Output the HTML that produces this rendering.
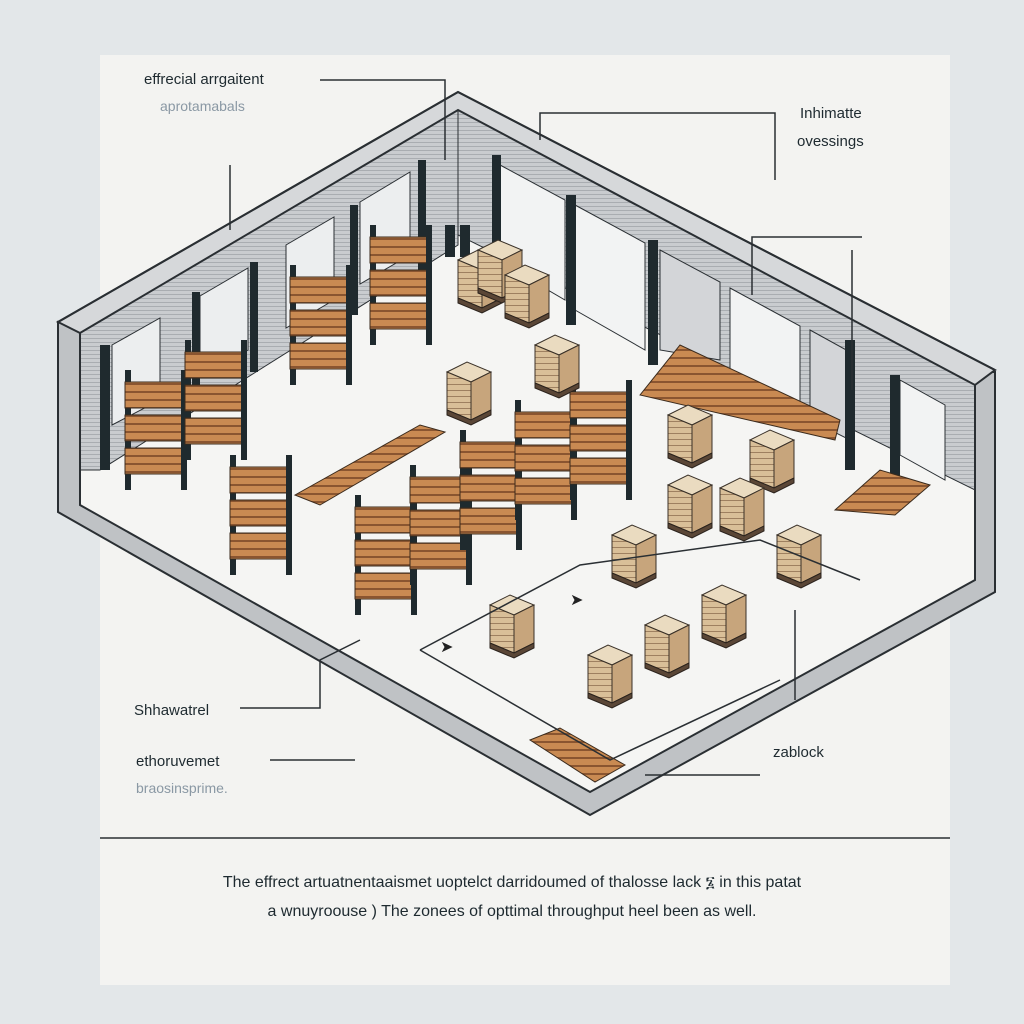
<!DOCTYPE html>
<html><head><meta charset="utf-8"><style>
html,body{margin:0;padding:0;width:1024px;height:1024px;background:#e3e7e9;overflow:hidden}
svg{display:block}
text{font-family:"Liberation Sans",sans-serif}
</style></head><body>
<svg width="1024" height="1024" viewBox="0 0 1024 1024">
<defs>
<pattern id="wood" width="8" height="8" patternUnits="userSpaceOnUse">
<rect width="8" height="8" fill="#c98a52"/><rect y="5" width="8" height="2" fill="#8a5530"/></pattern>
<pattern id="box" width="6" height="6" patternUnits="userSpaceOnUse">
<rect width="6" height="6" fill="#d9bf98"/><rect y="4" width="6" height="1" fill="#9e8060"/></pattern>
<pattern id="hatch" width="4" height="4" patternUnits="userSpaceOnUse">
<rect width="4" height="4" fill="#c9cccf"/><rect y="2" width="4" height="1" fill="#a9adb1"/></pattern>
<g id="pal">
<polygon points="0,10 20,0 44,10 24,20" fill="#eadbc0" stroke="#3a3128"/>
<polygon points="0,10 24,20 24,58 0,48" fill="url(#box)" stroke="#3a3128"/>
<polygon points="24,20 44,10 44,48 24,58" fill="#c7a57c" stroke="#3a3128"/>
<polygon points="0,48 24,58 44,48 44,53 24,63 0,53" fill="#5a4636" stroke="#2a221c"/>
</g>
<g id="rack">
<rect x="0" y="0" width="6" height="120" fill="#1f2a2e"/>
<rect x="0" y="12" width="60" height="26" fill="url(#wood)" stroke="#3a2a1c"/>
<rect x="0" y="45" width="60" height="26" fill="url(#wood)" stroke="#3a2a1c"/>
<rect x="0" y="78" width="60" height="26" fill="url(#wood)" stroke="#3a2a1c"/>
<rect x="56" y="0" width="6" height="120" fill="#1f2a2e"/>
</g>
</defs>
<rect x="100" y="55" width="850" height="930" fill="#f3f3f1"/>
<!-- floor -->
<polygon points="80,335 458,112 975,385 975,580 590,792 80,508" fill="#f5f5f3"/>
<!-- back walls -->
<polygon points="80,332 458,108 458,245 100,470 80,470" fill="url(#hatch)" stroke="#2a2f33"/>
<polygon points="458,108 975,380 975,490 458,235" fill="url(#hatch)" stroke="#2a2f33"/>
<!-- doors left wall -->
<g fill="#eceeef" stroke="#2a2f33">
<polygon points="112,345 160,318 160,400 112,425"/>
<polygon points="200,296 248,268 248,350 200,378"/>
<polygon points="286,245 334,217 334,300 286,328"/>
<polygon points="360,202 410,172 410,255 360,284"/>
</g>
<!-- doors right wall -->
<g fill="#f2f3f3" stroke="#2a2f33">
<polygon points="500,165 565,200 565,300 500,262"/>
<polygon points="575,205 645,243 645,350 575,310"/>
<polygon points="660,250 720,282 720,360 660,350" fill="#d3d5d8"/>
<polygon points="730,288 800,326 800,410 730,380"/>
<polygon points="810,330 850,352 850,440 810,420" fill="#d3d5d8"/>
<polygon points="900,380 945,405 945,480 900,455"/>
</g>
<g fill="#1f2a2e">
<rect x="100" y="345" width="10" height="125"/><rect x="192" y="292" width="8" height="110"/>
<rect x="250" y="262" width="8" height="110"/><rect x="350" y="205" width="8" height="110"/>
<rect x="418" y="160" width="8" height="110"/><rect x="492" y="155" width="9" height="100"/>
<rect x="566" y="195" width="10" height="130"/><rect x="648" y="240" width="10" height="125"/>
<rect x="845" y="340" width="10" height="130"/><rect x="890" y="375" width="10" height="110"/>
<rect x="445" y="225" width="10" height="32"/><rect x="460" y="225" width="10" height="32"/>
</g>
<!-- front wall band -->
<polygon points="58,322 58,512 590,815 995,592 995,372 975,372 975,580 590,792 80,505 80,330" fill="#bfc2c5" stroke="#2a2f33" stroke-width="2"/>
<polygon points="58,322 458,92 995,370 975,385 458,110 80,333" fill="#d6d8da" stroke="#2a2f33" stroke-width="2"/>
<polyline points="58,322 458,92 995,370" fill="none" stroke="#2a2f33" stroke-width="2"/>
<!-- racks -->
<use href="#rack" x="125" y="370"/><use href="#rack" x="185" y="340"/>
<use href="#rack" x="290" y="265"/><use href="#rack" x="370" y="225"/>
<use href="#rack" x="230" y="455"/>
<use href="#rack" x="355" y="495"/><use href="#rack" x="410" y="465"/><use href="#rack" x="460" y="430"/><use href="#rack" x="515" y="400"/><use href="#rack" x="570" y="380"/>
<polygon points="295,495 420,425 445,432 320,505" fill="url(#wood)" stroke="#3a2a1c"/>
<polygon points="640,395 680,345 840,420 835,440" fill="url(#wood)" stroke="#3a2a1c"/>
<polygon points="530,740 560,728 625,765 595,782" fill="url(#wood)" stroke="#3a2a1c"/>
<polygon points="835,510 880,470 930,485 895,515" fill="url(#wood)" stroke="#3a2a1c"/>
<!-- pallets -->
<use href="#pal" x="458" y="250"/><use href="#pal" x="478" y="240"/><use href="#pal" x="505" y="265"/>
<use href="#pal" x="535" y="335"/><use href="#pal" x="447" y="362"/>
<use href="#pal" x="668" y="405"/><use href="#pal" x="750" y="430"/>
<use href="#pal" x="668" y="475"/><use href="#pal" x="720" y="478"/>
<use href="#pal" x="612" y="525"/><use href="#pal" x="777" y="525"/>
<use href="#pal" x="702" y="585"/><use href="#pal" x="645" y="615"/>
<use href="#pal" x="490" y="595"/><use href="#pal" x="588" y="645"/>
<!-- floor markings -->
<polyline points="420,650 580,565 760,540 860,580" fill="none" stroke="#2a2f33" stroke-width="1.5"/>
<polyline points="420,650 610,760 780,680" fill="none" stroke="#2a2f33" stroke-width="1.5"/>
<text x="440" y="652" font-size="16" fill="#222">➤</text>
<text x="570" y="605" font-size="16" fill="#222">➤</text>
<!-- leader lines -->
<g stroke="#2a2f33" stroke-width="1.5" fill="none">
<polyline points="320,80 445,80 445,160"/>
<polyline points="230,165 230,230"/>
<polyline points="540,140 540,113 775,113 775,180"/>
<polyline points="752,295 752,237 862,237"/>
<polyline points="852,250 852,390"/>
<polyline points="240,708 320,708 320,660 360,640"/>
<polyline points="270,760 355,760"/>
<polyline points="795,700 795,610"/>
<polyline points="645,775 760,775"/>
<line x1="100" y1="838" x2="950" y2="838"/>
</g>
<text x="144" y="84" font-size="15" fill="#1e2a30">effrecial arrgaitent</text>
<text x="160" y="111" font-size="14" fill="#8a98a4">aprotamabals</text>
<text x="800" y="118" font-size="15" fill="#1e2a30">Inhimatte</text>
<text x="797" y="146" font-size="15" fill="#1e2a30">ovessings</text>
<text x="134" y="715" font-size="15" fill="#1e2a30">Shhawatrel</text>
<text x="136" y="766" font-size="15" fill="#1e2a30">ethoruvemet</text>
<text x="136" y="793" font-size="14" fill="#8a98a4">braosinsprime.</text>
<text x="773" y="757" font-size="15" fill="#1e2a30">zablock</text>
<text x="512" y="887" font-size="16" fill="#1e2a30" text-anchor="middle">The effrect artuatnentaaismet uoptelct darridoumed of thalosse lack ፮ in this patat</text>
<text x="512" y="916" font-size="16" fill="#1e2a30" text-anchor="middle">a wnuyroouse ) The zonees of opttimal throughput heel been as well.</text>
</svg>
</body></html>
